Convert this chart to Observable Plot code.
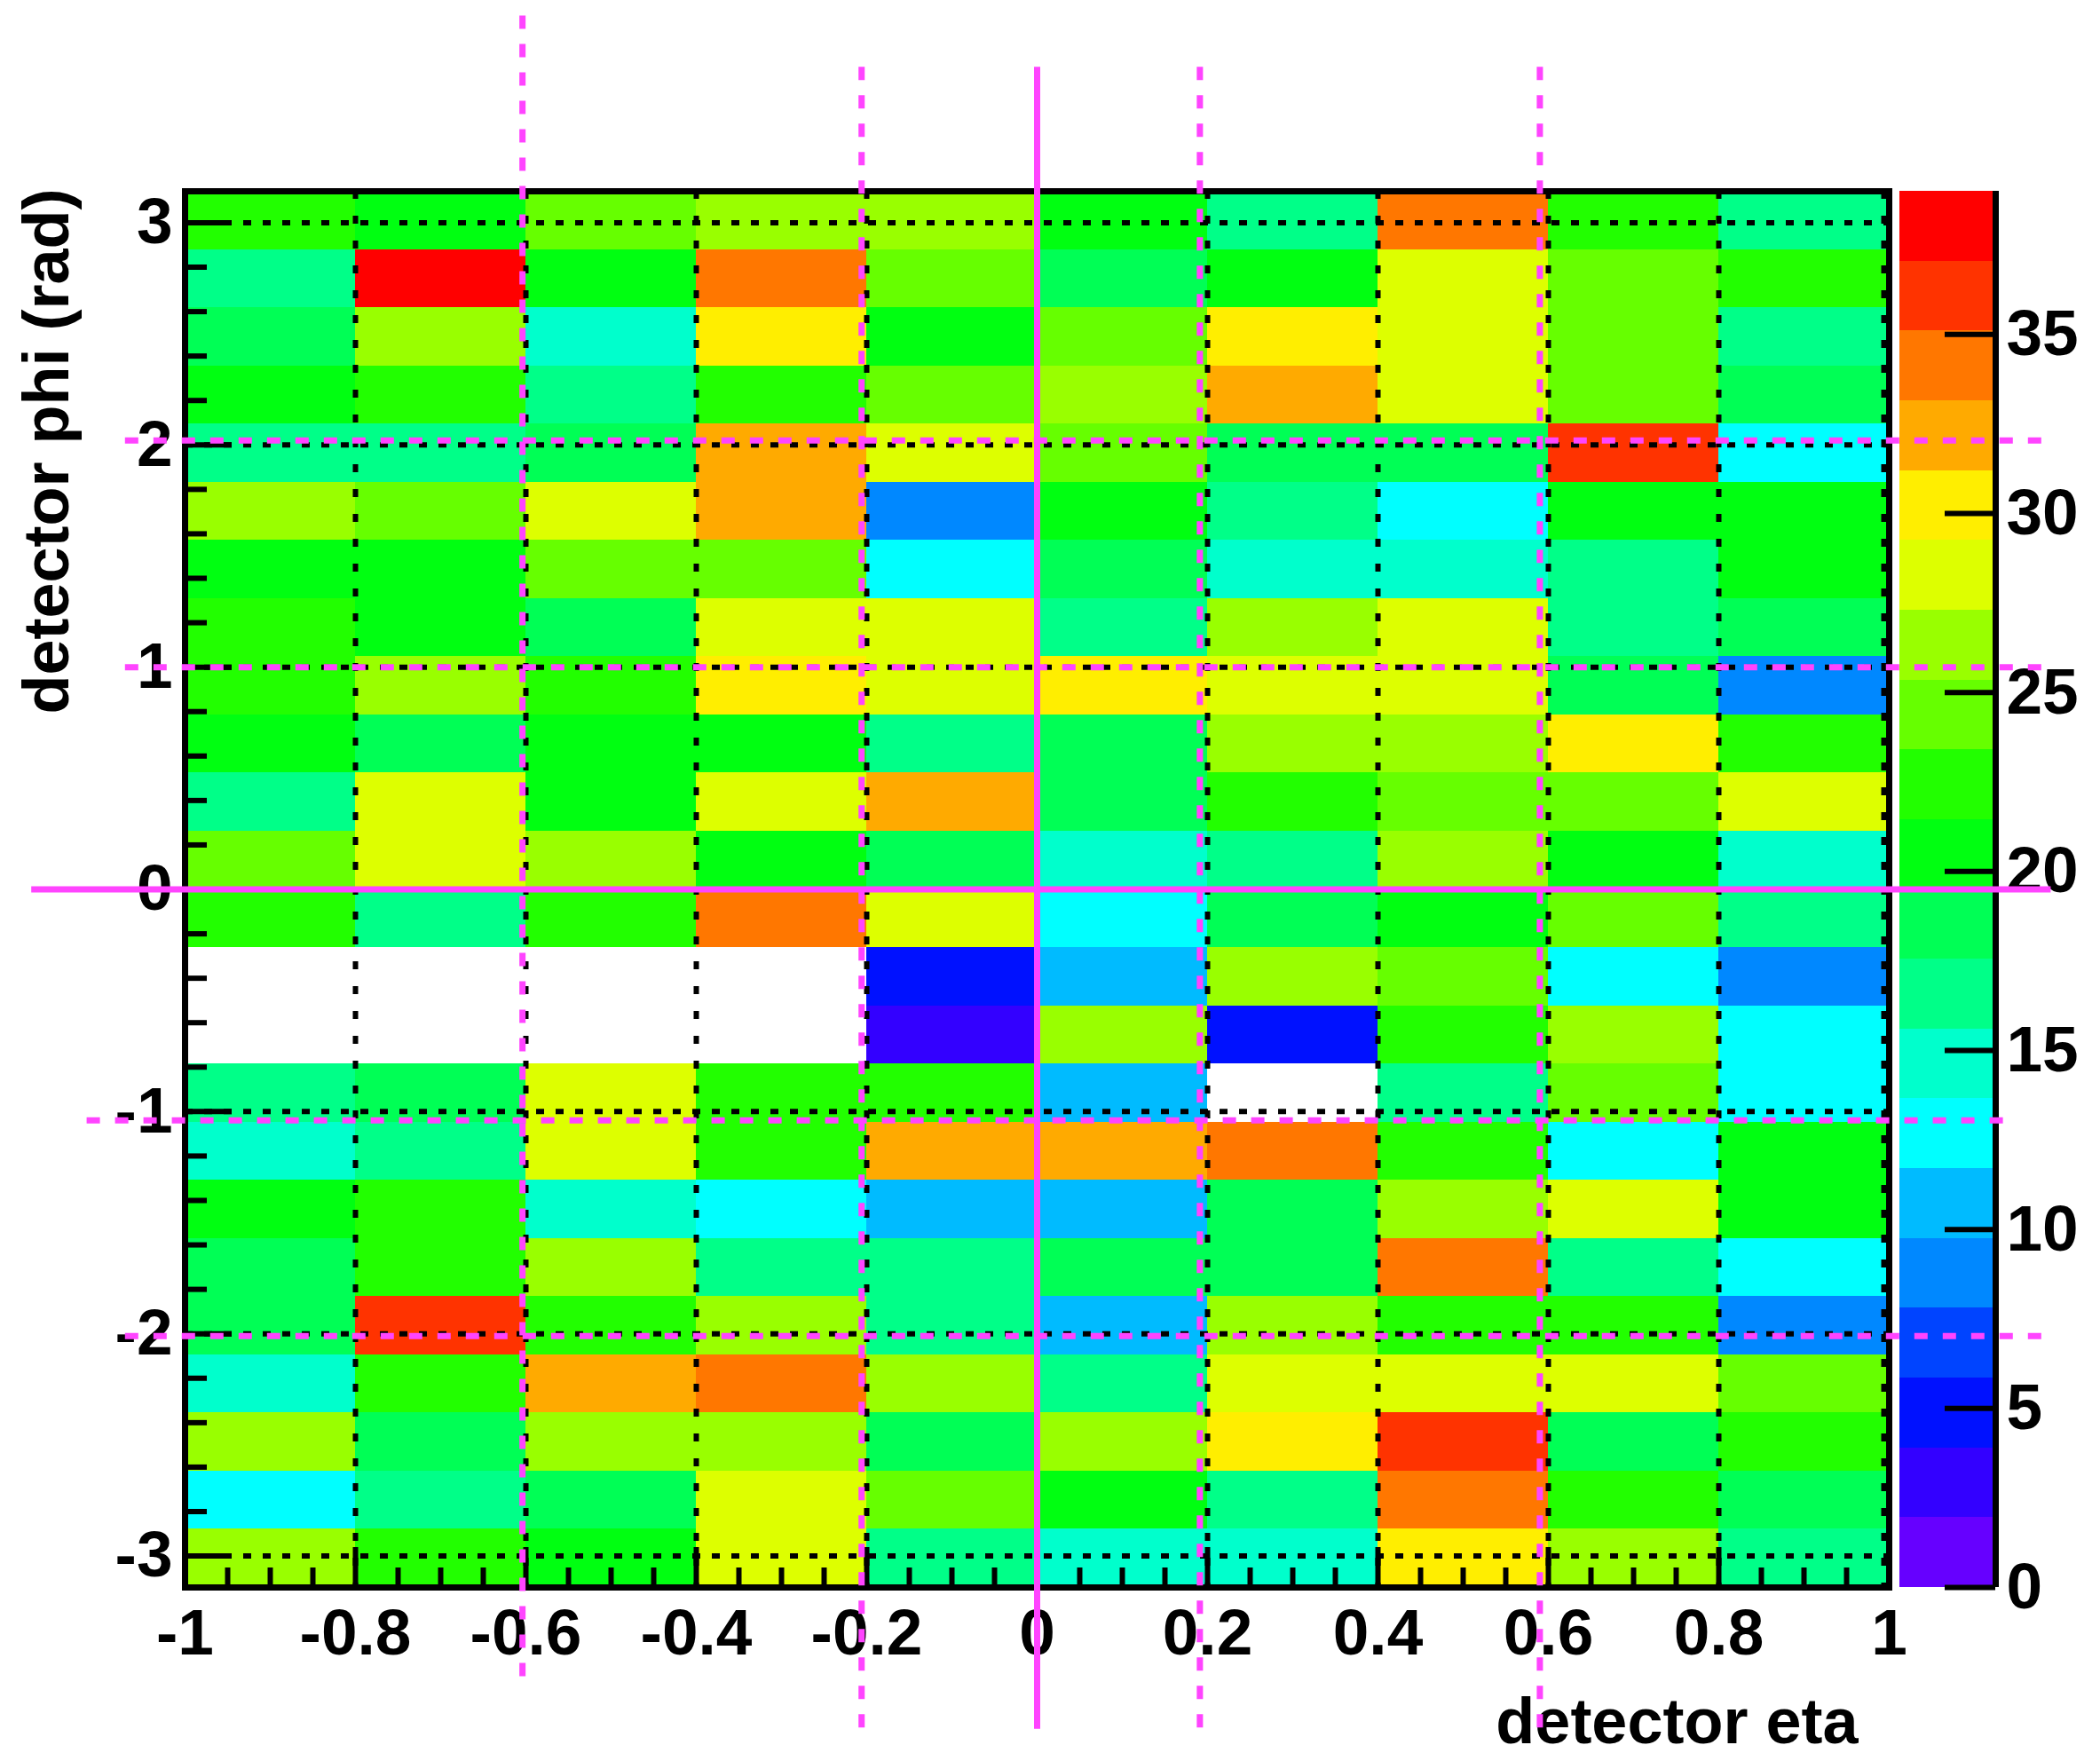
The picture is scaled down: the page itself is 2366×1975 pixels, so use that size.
<!DOCTYPE html>
<html><head><meta charset="utf-8">
<script src="https://cdn.jsdelivr.net/npm/d3@7"></script>
<script src="https://cdn.jsdelivr.net/npm/@observablehq/plot@0.6"></script>
<style>
body{margin:0;background:#fff;}
#fig{position:relative;width:2366px;height:1975px;background:#fff;}
#fig svg{position:absolute;left:0;top:0;}
</style></head><body><div id="fig"></div>
<script>
// ---- data ----
const etaEdges = [-1, -0.8, -0.6, -0.4, -0.2, 0, 0.2, 0.4, 0.6, 0.8, 1];
const phiBinCount = 24; // from -pi to +pi
// counts per eta bin, listed by phi bin from -pi upward
const etaBin01 = [27,13,27,15,19,19,21,15,17,0,0,23,25,17,21,23,23,21,27,17,21,19,17,23];
const etaBin02 = [23,17,19,23,37,23,23,17,19,0,0,17,29,29,19,27,21,21,25,17,23,27,39,21];
const etaBin03 = [21,19,27,33,23,27,15,29,29,0,0,23,27,21,21,23,19,25,29,19,17,15,21,25];
const etaBin04 = [29,29,27,35,27,17,13,23,23,0,0,35,21,29,21,31,29,25,33,33,23,31,35,27];
const etaBin05 = [17,25,19,27,17,17,11,33,23,3,5,29,19,33,17,29,29,13,9,29,25,21,25,27];
const etaBin06 = [15,21,27,17,11,19,11,33,11,27,11,13,15,19,19,31,17,19,21,25,27,25,19,21];
const etaBin07 = [15,17,31,29,27,19,19,35,0,5,27,19,17,23,27,29,27,15,17,19,33,31,21,17];
const etaBin08 = [31,35,37,29,23,35,27,23,17,23,25,21,27,25,27,29,29,15,13,19,29,29,29,35];
const etaBin09 = [27,23,19,29,23,17,29,13,25,27,13,25,21,25,31,19,17,17,21,37,25,25,25,23];
const etaBin10 = [17,19,23,25,9,13,21,21,13,13,9,17,15,29,23,9,19,21,21,13,19,17,23,17];
const etaColumns = [etaBin01, etaBin02, etaBin03, etaBin04, etaBin05, etaBin06, etaBin07, etaBin08, etaBin09, etaBin10];

const zMax = 39;
const nContours = 20;
const palette = ["#6600ff","#3300ff","#0011ff","#0044ff","#0088ff","#00bbff","#00ffff","#00ffcc","#00ff88","#00ff55",
                 "#00ff11","#22ff00","#66ff00","#99ff00","#ddff00","#ffee00","#ffaa00","#ff7700","#ff3300","#ff0000"];

const etaMajor = [-0.8, -0.6, -0.4, -0.2, 0, 0.2, 0.4, 0.6, 0.8];
const etaTickLabels = ["-1","-0.8","-0.6","-0.4","-0.2","0","0.2","0.4","0.6","0.8","1"];
const etaLabelPos = [-1, -0.8, -0.6, -0.4, -0.2, 0, 0.2, 0.4, 0.6, 0.8, 1];
const phiMajor = [-3, -2, -1, 0, 1, 2, 3];
const phiTickLabels = ["-3","-2","-1","0","1","2","3"];
const zTicks = [0, 5, 10, 15, 20, 25, 30, 35];

// overlay guide lines (magenta)
const vDashed = [ {eta: -0.604, top: 3.93, bottom: -3.55}, {eta: -0.206, top: 3.70, bottom: -3.78},
                  {eta: 0.191, top: 3.70, bottom: -3.78}, {eta: 0.590, top: 3.70, bottom: -3.78} ];
const vSolid  = [ {eta: 0.0, top: 3.70, bottom: -3.78} ];
const hDashed = [ {phi: 2.02, left: -1.07, right: 1.19}, {phi: 1.0, left: -1.07, right: 1.19},
                  {phi: -1.04, left: -1.115, right: 1.142}, {phi: -2.01, left: -1.07, right: 1.19} ];
const hSolid  = [ {phi: 0.0, left: -1.18, right: 1.19} ];

// ---- build table ----
const phiEdges = d3.range(phiBinCount + 1).map(k => -Math.PI + k * 2 * Math.PI / phiBinCount);
const cells = [];
etaColumns.forEach((col, i) => col.forEach((v, j) => {
  cells.push({eta1: etaEdges[i], eta2: etaEdges[i + 1], phi1: phiEdges[j], phi2: phiEdges[j + 1], v});
}));
const thresholds = d3.range(1, nContours).map(i => i * zMax / nContours);
const colorScale = {type: "threshold", domain: thresholds, range: palette};

const W = 2366, H = 1975;
const mL = 208, mR = 238, mT = 215, mB = 187;
const frameW = W - mL - mR, frameH = H - mT - mB;
const font = "'Liberation Sans', Arial, Helvetica, sans-serif";
const fs = 73;

const phiMinor = d3.range(-30, 31, 2).filter(k => k % 10 !== 0).map(k => k / 10);
const etaMinor = d3.range(-20, 21).filter(k => k % 4 !== 0).map(k => k / 20);

const main = Plot.plot({
  width: W, height: H,
  marginLeft: mL, marginRight: mR, marginTop: mT, marginBottom: mB,
  style: {background: "transparent", fontFamily: font, overflow: "visible"},
  x: {domain: [-1, 1], axis: null},
  y: {domain: [-Math.PI, Math.PI], axis: null},
  color: colorScale,
  marks: [
    Plot.rect(cells.filter(d => d.v > 0), {x1: "eta1", x2: "eta2", y1: "phi1", y2: "phi2", fill: "v", shapeRendering: "crispEdges"}),
    Plot.ruleY(phiMajor, {y: d => d, stroke: "black", strokeWidth: 6, strokeDasharray: "9,13"}),
    Plot.ruleX(etaMajor, {x: d => d, stroke: "black", strokeWidth: 6, strokeDasharray: "9,19"}),
    Plot.ruleX([1], {x: d => d, dx: -6, stroke: "black", strokeWidth: 6, strokeDasharray: "9,19"}),
    Plot.tickY(phiMajor, {y: d => d, insetRight: frameW - 53, stroke: "black", strokeWidth: 6}),
    Plot.tickY(phiMinor, {y: d => d, insetRight: frameW - 25, stroke: "black", strokeWidth: 6}),
    Plot.tickX(etaMajor, {x: d => d, insetTop: frameH - 45, stroke: "black", strokeWidth: 6}),
    Plot.tickX(etaMinor, {x: d => d, insetTop: frameH - 22, stroke: "black", strokeWidth: 6}),
    Plot.frame({stroke: "black", strokeWidth: 7}),
    Plot.text(etaLabelPos, {x: d => d, text: (d, i) => etaTickLabels[i], frameAnchor: "bottom", dy: 75, lineAnchor: "bottom",
      fontSize: fs, fontWeight: "bold", fill: "black"}),
    Plot.text(phiMajor, {y: d => d, text: (d, i) => phiTickLabels[i], frameAnchor: "left", dx: -14, textAnchor: "end",
      fontSize: fs, fontWeight: "bold", fill: "black"}),
    Plot.text(["detector eta"], {text: d => d, frameAnchor: "bottom-right", dx: -35, dy: 175, textAnchor: "end", lineAnchor: "bottom",
      fontSize: 72, fontWeight: "bold", fill: "black"}),
    Plot.text(["detector phi (rad)"], {text: d => d, frameAnchor: "top-left", dx: -132, dy: -3, rotate: -90, textAnchor: "end", lineAnchor: "bottom",
      fontSize: 72, fontWeight: "bold", fill: "black"}),
    Plot.ruleX(vDashed, {x: "eta", y1: "top", y2: "bottom", stroke: "#ff44ff", strokeWidth: 7, strokeDasharray: "15,17"}),
    Plot.ruleX(vSolid, {x: "eta", y1: "top", y2: "bottom", stroke: "#ff44ff", strokeWidth: 7}),
    Plot.ruleY(hDashed, {y: "phi", x1: "left", x2: "right", stroke: "#ff44ff", strokeWidth: 7, strokeDasharray: "15,17"}),
    Plot.ruleY(hSolid, {y: "phi", x1: "left", x2: "right", stroke: "#ff44ff", strokeWidth: 7})
  ]
});

// ---- colour bar ----
const barL = 2140, barR = 2248;
const bands = d3.range(nContours).map(i => ({lo: i * zMax / nContours, hi: (i + 1) * zMax / nContours, mid: (i + 0.5) * zMax / nContours}));
const bar = Plot.plot({
  width: W, height: H,
  marginLeft: barL, marginRight: W - barR, marginTop: mT, marginBottom: mB,
  style: {background: "transparent", fontFamily: font, overflow: "visible"},
  x: {domain: [0, 1], axis: null},
  y: {domain: [0, zMax], axis: null},
  color: colorScale,
  marks: [
    Plot.rect(bands, {x1: 0, x2: 1, y1: "lo", y2: "hi", fill: "mid", shapeRendering: "crispEdges"}),
    Plot.ruleX([1], {stroke: "black", strokeWidth: 7}),
    Plot.tickY(zTicks, {y: d => d, insetLeft: (barR - barL) - 57, stroke: "black", strokeWidth: 6}),
    Plot.text(zTicks, {y: d => d, text: d => String(d), frameAnchor: "right", dx: 12, textAnchor: "start",
      fontSize: fs, fontWeight: "bold", fill: "black"})
  ]
});

const fig = document.getElementById("fig");
fig.appendChild(bar);
fig.appendChild(main);
</script>
</body></html>
